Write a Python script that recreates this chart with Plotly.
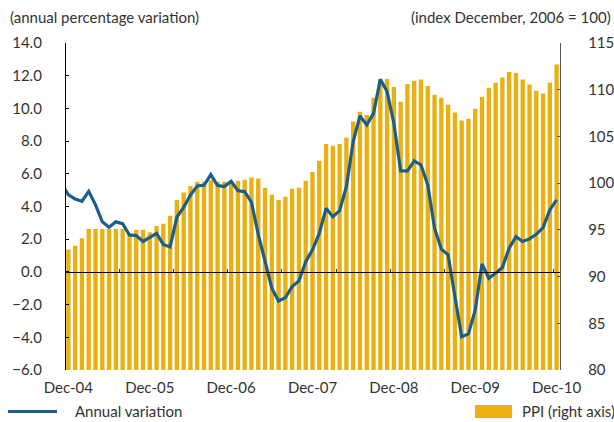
import plotly.graph_objects as go

# ---- data ----
tick_labels = ["Dec-04", "Dec-05", "Dec-06", "Dec-07", "Dec-08", "Dec-09", "Dec-10"]

# PPI index (Dec-2006 = 100), monthly Dec-04 .. Dec-10 (right axis)
ppi = [92.9, 93.3, 94.1, 95.1, 95.1, 95.1, 95.1, 95.1, 95.1, 94.6, 95.0, 95.0,
       94.75, 95.4, 95.65, 96.5, 98.2, 99.0, 99.7, 100.15, 100.15, 100.3, 100.15, 100.15,
       100.0, 100.25, 100.35, 100.6, 100.5, 99.5, 98.75, 98.2, 98.55, 99.4, 99.5, 100.25,
       101.2, 102.4, 104.2, 104.0, 104.2, 104.85, 106.6, 107.65, 107.3, 109.15, 111.1, 111.15,
       110.3, 108.7, 110.6, 110.95, 111.1, 110.4, 109.45, 109.15, 108.4, 107.55, 106.7, 106.9,
       107.95, 109.25, 110.2, 110.75, 111.3, 111.9, 111.8, 111.1, 110.55, 109.9, 109.6, 110.75,
       112.7]

# Annual percentage variation, monthly Nov-04 .. Dec-10 (left axis)
annual = [5.4,
          4.71, 4.46, 4.32, 4.93, 4.10, 3.06, 2.73, 3.06, 2.95, 2.26, 2.22, 1.86,
          2.13, 2.35, 1.68, 1.53, 3.36, 3.95, 4.70, 5.26, 5.30, 5.95, 5.28, 5.22,
          5.54, 4.97, 4.91, 4.26, 2.30, 0.60, -1.0, -1.78, -1.57, -0.90, -0.55, 0.63,
          1.35, 2.35, 3.89, 3.38, 3.75, 5.22, 7.97, 9.54, 8.99, 9.70, 11.78, 11.03,
          9.09, 6.18, 6.18, 6.79, 6.54, 5.32, 2.67, 1.39, 1.04, -1.51, -3.96, -3.79,
          -2.32, 0.49, -0.39, -0.08, 0.27, 1.45, 2.16, 1.86, 2.02, 2.30, 2.71, 3.79,
          4.40]

bar_x = list(range(len(ppi)))                       # Dec-04 = 0
line_x = list(range(-(len(annual) - len(ppi)), len(ppi)))  # starts at Nov-04 = -1
label_pos = list(range(0, len(ppi), 12))
zero_ticks = [i + 7.5 for i in range(0, 72, 8)]

GOLD = "#EAAF10"
BLUE = "#1A5F8C"
TXT = "#333333"
FONT = "Lato"

W, H = 614, 422
# plot area geometry in pixels
L, R, T, B = 65, 560, 43, 370
def px(x):
    return (x - L) / (R - L)
def py(y):
    return (B - y) / (B - T)

fig = go.Figure()
fig.add_trace(go.Bar(x=bar_x, y=ppi, marker=dict(color=GOLD, line=dict(width=0)),
                     xaxis="x", yaxis="y", name="PPI (right axis)", showlegend=False))
fig.add_trace(go.Scatter(x=line_x, y=annual, mode="lines",
                         line=dict(color=BLUE, width=3.2),
                         xaxis="x2", yaxis="y2", name="Annual variation", showlegend=False))

fig.update_layout(
    width=W, height=H,
    margin=dict(l=L, r=W - R, t=T, b=H - B, autoexpand=False),
    paper_bgcolor="white", plot_bgcolor="white",
    bargap=0.36,
    font=dict(family=FONT, size=15, color=TXT),
    xaxis=dict(range=[-0.5, 72.5], tickvals=label_pos, ticktext=tick_labels,
               ticks="", showline=False, showgrid=False, zeroline=False, automargin=False,
               ticklabelstandoff=7, tickfont=dict(size=15, color=TXT)),
    xaxis2=dict(range=[-0.5, 72.5], overlaying="x", anchor="free", position=0.3,
                tickvals=zero_ticks, ticks="inside", ticklen=3, tickcolor="#333",
                showticklabels=False, showline=True, linecolor="black", linewidth=1.3,
                showgrid=False, zeroline=False, layer="above traces", automargin=False),
    yaxis=dict(range=[80, 115], dtick=5, side="right", showline=True, linecolor="#555",
               linewidth=1.3, ticks="inside", ticklen=3, tickcolor="#555",
               showgrid=False, zeroline=False, ticklabelstandoff=24, automargin=False,
               tickfont=dict(size=15, color=TXT)),
    yaxis2=dict(range=[-6, 14], dtick=2, tickformat=".1f", overlaying="y", side="left",
                anchor="free", position=0, showline=True, linecolor="black", linewidth=1.3,
                ticks="inside", ticklen=3, tickcolor="black", showgrid=False, zeroline=False,
                ticklabelstandoff=20, automargin=False, tickfont=dict(size=15, color=TXT)),
)

annots = [
    dict(text="(annual percentage variation)", x=px(8), y=py(6), xanchor="left", yanchor="top"),
    dict(text="(index December, 2006 = 100)", x=px(613), y=py(6), xanchor="right", yanchor="top"),
    dict(text="Annual variation", x=px(73), y=py(411), xanchor="left", yanchor="middle"),
    dict(text="PPI (right axis)", x=px(520), y=py(411), xanchor="left", yanchor="middle"),
]
for a in annots:
    fig.add_annotation(xref="paper", yref="paper", showarrow=False,
                       font=dict(family=FONT, size=15, color=TXT), **a)

fig.add_shape(type="line", xref="paper", yref="paper", x0=px(8), x1=px(57),
              y0=py(411.5), y1=py(411.5), line=dict(color=BLUE, width=3.2))
fig.add_shape(type="rect", xref="paper", yref="paper", x0=px(475), x1=px(512),
              y0=py(418), y1=py(405), line=dict(width=0), fillcolor=GOLD)

fig.write_html("out.html",
               config={"displayModeBar": False},
               post_script="document.body.style.margin='0';"
                           "document.body.style.overflow='hidden';")
